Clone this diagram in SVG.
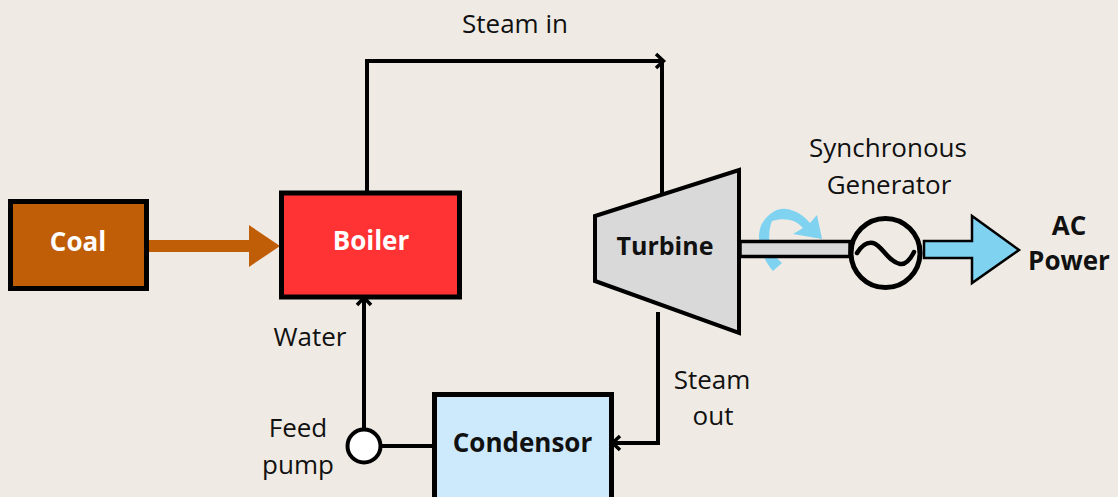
<svg xmlns="http://www.w3.org/2000/svg" width="1118" height="497" viewBox="0 0 1118 497">
<style>
text{font-family:"Open Sans","Noto Sans","Liberation Sans",sans-serif;fill:#111;font-size:26px;text-anchor:middle}
.b{font-weight:700}
.w{fill:#fff}
.box{stroke:#000;stroke-width:5}
.line{fill:none;stroke:#000;stroke-width:4}
</style>
<defs>
<marker id="a" markerUnits="userSpaceOnUse" markerWidth="16" markerHeight="18" refX="13" refY="9" orient="auto"><path d="M5 2L12.500 9L5 16" fill="none" stroke="#000" stroke-width="3.500"/></marker>
</defs>
<rect width="1118" height="497" fill="#efebe4"/>
<g id="connectors">
<path class="line" d="M367 192V61H664" marker-end="url(#a)"/>
<path class="line" d="M662 61V194"/>
<path class="line" d="M658 312V443H612" marker-end="url(#a)"/>
<path class="line" d="M364 430V297" marker-end="url(#a)"/>
<path class="line" d="M382 446H433"/>
<path d="M149 240H249V225L280 246L249 267V252H149Z" fill="#c05e07"/>
</g>
<g id="rotation">
<path d="M763 222C771 211 779 208 786 209C796 210 804 216 810 223L817 215L822 239L793 234L803 228C798 223 795 221 790 220C784 219 779 219 772 221C769 228 768 240 771 252L782 263L773 271C765 262 760 250 759 237C759 232 760 226 763 222Z" fill="#7fd2f0"/>
</g>
<g id="shaft"><rect x="740" y="241.500" width="110" height="15" fill="#d9d9d9" stroke="#000" stroke-width="3.500"/></g>
<g id="coal"><rect class="box" x="10.500" y="201.500" width="136" height="87" fill="#c05e07"/><text class="b w" x="78" y="251" font-size="26">Coal</text></g>
<g id="boiler"><rect class="box" x="281.500" y="193" width="178" height="104" fill="#ff3333"/><text class="b w" x="371" y="250">Boiler</text></g>
<g id="turbine"><path d="M739 170V333L595 281V216Z" fill="#d9d9d9" stroke="#000" stroke-width="4"/><text class="b" x="665" y="255" style="font-size:25px">Turbine</text></g>
<g id="generator"><circle cx="885.500" cy="253" r="34.500" fill="#efebe4" stroke="#000" stroke-width="5"/><path d="M857 253C862 245 868 242 873 243C882 245 888 262 900 264C906 265 910 260 914 252" fill="none" stroke="#000" stroke-width="4.500" stroke-linecap="round"/></g>
<g id="ac-arrow"><path d="M924 241H972V216L1019 250L972 283V258H924Z" fill="#7fd2f0" stroke="#000" stroke-width="2.500"/></g>
<g id="condensor"><rect class="box" x="434.500" y="394.500" width="177" height="110" fill="#cdeafd"/><text class="b" x="522.500" y="452">Condensor</text></g>
<g id="feed-pump"><circle cx="364" cy="446" r="16.500" fill="#fff" stroke="#000" stroke-width="4"/></g>
<g id="labels">
<text x="515" y="33">Steam in</text>
<text x="888" y="157">Synchronous</text>
<text x="889" y="194">Generator</text>
<text class="b" x="1069" y="235">AC</text>
<text class="b" x="1069" y="270">Power</text>
<text x="310" y="346">Water</text>
<text x="298" y="437">Feed</text>
<text x="298" y="474">pump</text>
<text x="712" y="389">Steam</text>
<text x="713" y="425">out</text>
</g>
</svg>
